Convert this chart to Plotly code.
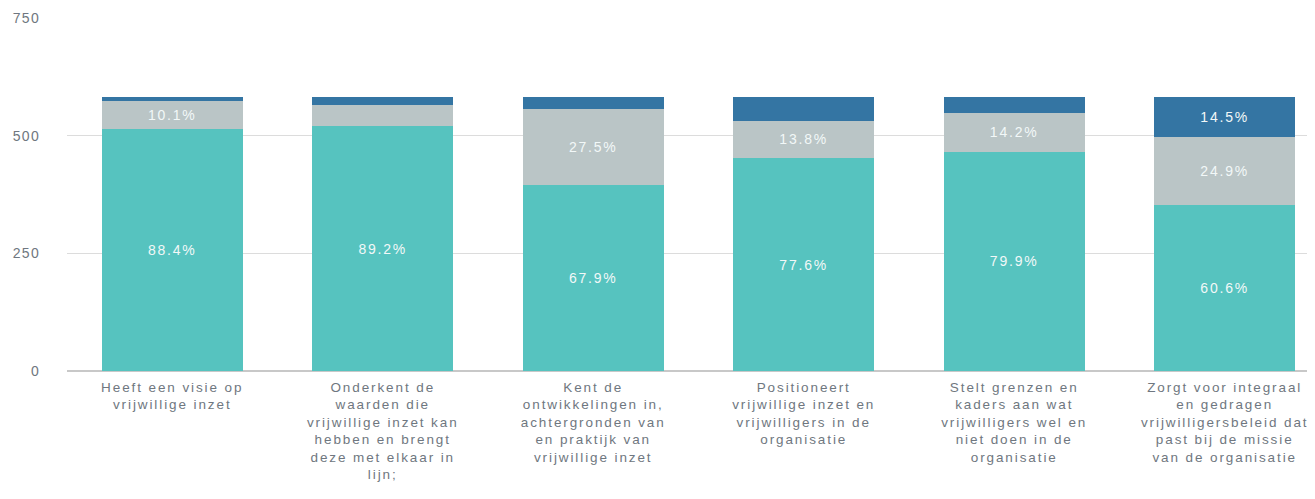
import plotly.graph_objects as go

categories = [
    "Heeft een visie op<br>vrijwillige inzet",
    "Onderkent de<br>waarden die<br>vrijwillige inzet kan<br>hebben en brengt<br>deze met elkaar in<br>lijn;",
    "Kent de<br>ontwikkelingen in,<br>achtergronden van<br>en praktijk van<br>vrijwillige inzet",
    "Positioneert<br>vrijwillige inzet en<br>vrijwilligers in de<br>organisatie",
    "Stelt grenzen en<br>kaders aan wat<br>vrijwilligers wel en<br>niet doen in de<br>organisatie",
    "Zorgt voor integraal<br>en gedragen<br>vrijwilligersbeleid dat<br>past bij de missie<br>van de organisatie",
]

teal_values = [515, 520, 396, 452, 466, 353]
gray_values = [59, 46, 160, 80, 83, 145]
blue_values = [9, 17, 27, 51, 34, 85]

teal_labels = ["88.4%", "89.2%", "67.9%", "77.6%", "79.9%", "60.6%"]
gray_labels = ["10.1%", "", "27.5%", "13.8%", "14.2%", "24.9%"]
blue_labels = ["", "", "", "", "", "14.5%"]

y_ticks = [0, 250, 500, 750]

FONT = "Liberation Sans, Arial, sans-serif"


def spaced(s, ls):
    if not s:
        return s
    return "<br>".join(
        f'<span style="letter-spacing:{ls}px">{line}</span>' for line in s.split("<br>")
    )


fig = go.Figure()
for vals, labels, color in [
    (teal_values, teal_labels, "#56C3BF"),
    (gray_values, gray_labels, "#BAC5C6"),
    (blue_values, blue_labels, "#3475A3"),
]:
    fig.add_trace(go.Bar(
        x=categories, y=vals, text=[spaced(t, 1.8) for t in labels],
        textposition="inside", insidetextanchor="middle",
        textfont=dict(color="#F2F8F8", size=14, family=FONT),
        marker=dict(color=color, line=dict(width=0)),
        hoverinfo="skip", showlegend=False,
    ))

fig.update_layout(
    barmode="stack",
    bargap=0.33,
    width=1307, height=491,
    margin=dict(l=59, r=0, t=10, b=128, autoexpand=False),
    plot_bgcolor="white", paper_bgcolor="white",
    font=dict(family=FONT, color="#6F7780", size=13),
    uniformtext=dict(minsize=8, mode="show"),
)
fig.update_xaxes(
    range=[-0.5, 5.429], showgrid=False, zeroline=False,
    showline=False, ticks="", tickangle=0, automargin=False,
    tickmode="array", tickvals=categories,
    ticktext=[spaced(c, 1.9) for c in categories],
    ticklabelstandoff=6,
    tickfont=dict(size=13.5, color="#6F7780"),
)
fig.update_yaxes(
    range=[0, 750], tickmode="array", tickvals=y_ticks,
    ticktext=[spaced(str(v), 1.3) for v in y_ticks],
    showgrid=True,
    gridcolor="#DCDCDC", gridwidth=1, zeroline=True,
    zerolinecolor="#C8C8C8", zerolinewidth=2, automargin=False,
    ticks="", ticklabelstandoff=26,
    tickfont=dict(size=14, color="#6F7780"),
)

fig.write_html("out.html")
